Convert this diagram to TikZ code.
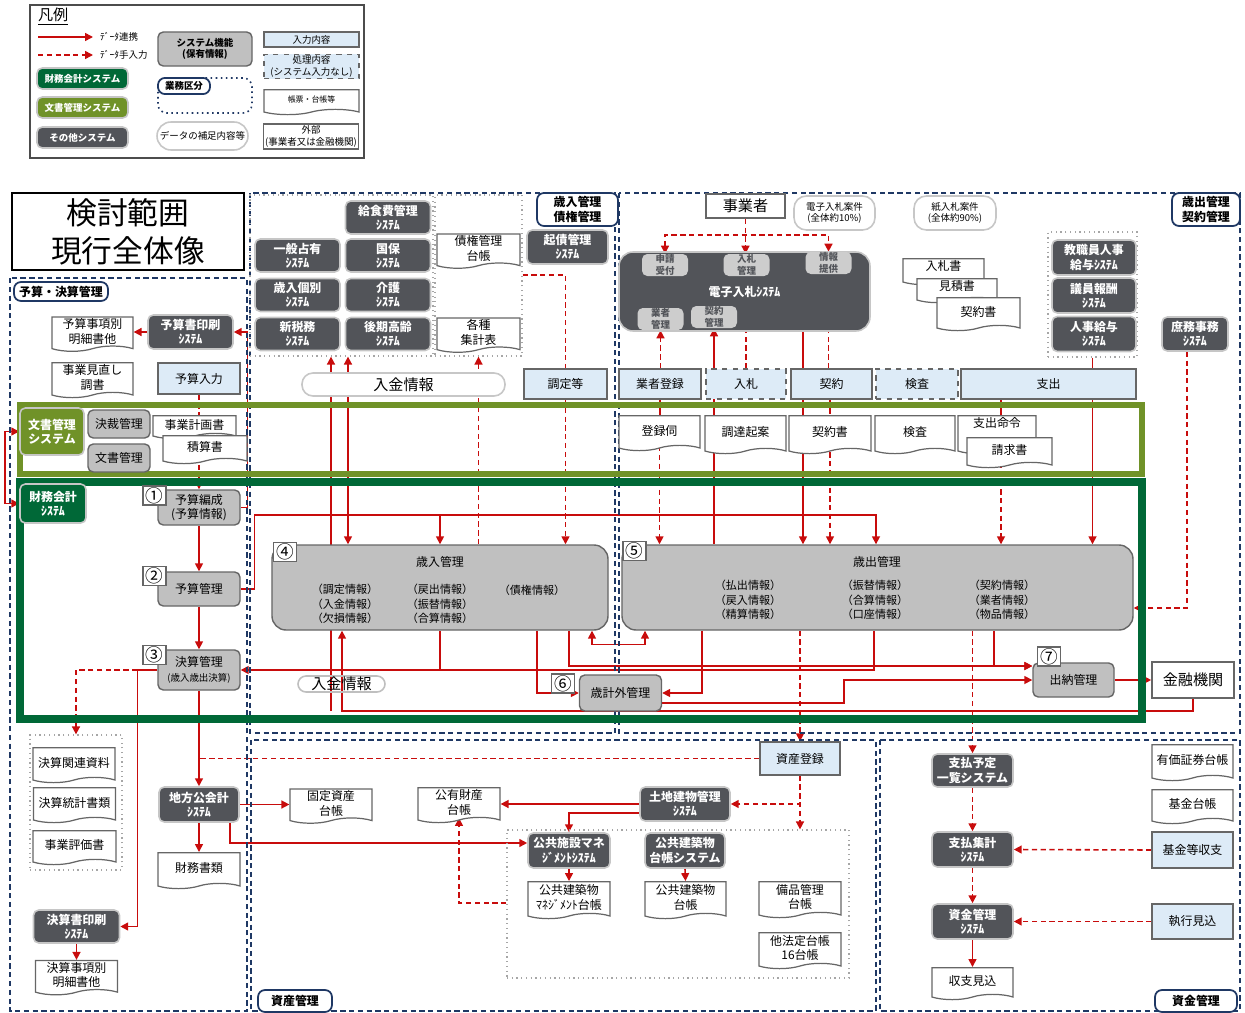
\documentclass[tikz,border=0pt]{standalone}
\usepackage{fontspec}
\setmainfont{Noto Sans CJK JP}
\usepackage{xcolor}
\usepackage{tikz}
\usetikzlibrary{positioning, arrows.meta, shapes.symbols, backgrounds, calc}

\definecolor{sysgray}{RGB}{82,84,89}
\definecolor{fgray}{RGB}{192,192,192}
\definecolor{subgray}{RGB}{205,205,205}
\definecolor{lblue}{RGB}{221,235,247}
\definecolor{zgreen}{RGB}{0,104,55}
\definecolor{bolive}{RGB}{112,146,40}
\definecolor{navy}{RGB}{31,56,100}
\definecolor{lred}{RGB}{200,12,12}

\newcommand{\fsT}{\fontsize{17.5}{21.5}\selectfont}
\newcommand{\fsN}{\fontsize{10}{11}\selectfont}
\newcommand{\fsL}{\fontsize{8.6}{10}\selectfont}
\newcommand{\fsM}{\fontsize{6.8}{8.2}\selectfont}
\newcommand{\fsC}{\fontsize{6.3}{8.2}\selectfont}
\newcommand{\fsS}{\fontsize{5.4}{6.4}\selectfont}
\newcommand{\fsXS}{\fontsize{4.5}{5.4}\selectfont}

\begin{document}
\begin{tikzpicture}[
  x=0.2mm, y=-0.2mm,
  >={Triangle[length=4.5pt,width=4.5pt]},
  every node/.style={font=\fsM, inner sep=1pt},
  sys/.style={draw=gray!45, line width=0.9pt, fill=sysgray, rounded corners=3pt,
              text=white, font=\fsM\bfseries, align=center,
              minimum width=16.6mm, minimum height=6.8mm},
  legsys/.style={sys, font=\fsS\bfseries, minimum width=18.2mm, minimum height=4.2mm},
  subsys/.style={fill=subgray, rounded corners=3pt, text=sysgray, font=\fsS\bfseries,
                 align=center, minimum width=9.2mm, minimum height=4.4mm, inner sep=0pt},
  fnc/.style={draw=black!60, line width=0.8pt, fill=fgray, rounded corners=3pt,
              align=center, minimum width=16.4mm, minimum height=6.8mm},
  inbox/.style={draw=black!60, line width=0.8pt, fill=lblue, align=center,
                minimum width=16.4mm, minimum height=6mm},
  proc/.style={inbox, dashed},
  doc/.style={tape, tape bend top=none, tape bend bottom=in and out, tape bend height=3pt,
              draw=black!60, line width=0.7pt, fill=white, align=center,
              minimum width=16.4mm, minimum height=6.8mm},
  ext/.style={draw=black!60, line width=0.9pt, fill=white, align=center},
  memo/.style={draw=black!22, line width=0.9pt, fill=white, rounded corners=7pt, align=center},
  tag/.style={draw=navy, line width=1pt, fill=white, rounded corners=4pt,
              font=\fsM\bfseries, align=center, inner sep=2pt},
  num/.style={draw=black!60, line width=0.9pt, fill=white, font=\fsN, inner sep=0pt,
              minimum width=4.6mm, minimum height=3.8mm},
  grp/.style={draw=black!35, dotted, line width=0.7pt},
  area/.style={draw=navy, line width=0.8pt, dash pattern=on 3pt off 2pt},
  lnk/.style={draw=lred, line width=0.9pt, ->},
  lnkb/.style={lnk, <->},
  wire/.style={draw=lred, line width=0.9pt},
  man/.style={lnk, dash pattern=on 3pt off 2pt},
  manb/.style={lnkb, dash pattern=on 3pt off 2pt},
  mwire/.style={wire, dash pattern=on 3pt off 2pt},
]
\useasboundingbox (0,0) rectangle (1245,1013);

% --- legend ---
\draw[black!70, line width=0.9pt] (30,5) rectangle (364,158);
\node[font=\fsL, anchor=west] (lgTitle) at (36,17) {\underline{凡例}};
\coordinate (lgS1) at (38,37); \coordinate (lgS2) at (93,37);
\coordinate (lgD1) at (38,55); \coordinate (lgD2) at (93,55);
\draw[lnk] (lgS1) -- (lgS2);
\draw[man] (lgD1) -- (lgD2);
\node[font=\fsS, anchor=west] (lgSTxt) at (98,37) {ﾃﾞｰﾀ連携};
\node[font=\fsS, anchor=west] (lgDTxt) at (98,55) {ﾃﾞｰﾀ手入力};
\node[legsys, fill=zgreen] (lgFin) at (82.5,78.5) {財務会計システム};
\node[legsys, fill=bolive] (lgDoc) at (82.5,107.5) {文書管理システム};
\node[legsys, fill=sysgray] (lgOther) at (82.5,137.5) {その他システム};
\node[fnc, font=\fsS\bfseries, minimum width=18.8mm] (lgFunc) at (205,49) {システム機能\\(保有情報)};
\draw[navy, dotted, line width=0.9pt, rounded corners=5pt] (158,78) rectangle (252,113);
\node[tag, font=\fsS\bfseries, minimum width=10.4mm, minimum height=3.2mm] (lgArea) at (184,86) {業務区分};
\node[memo, font=\fsS, minimum width=18.2mm, minimum height=5.6mm, rounded corners=2.8mm] (lgNote) at (202.5,136) {データの補足内容等};
\node[inbox, font=\fsS, minimum width=19mm, minimum height=3mm] (lgIn) at (311.5,39.5) {入力内容};
\node[proc, font=\fsS, minimum width=19mm, minimum height=4.6mm] (lgProc) at (311.5,66.5) {処理内容\\(システム入力なし)};
\node[doc, font=\fsXS, minimum width=19mm, minimum height=5mm] (lgLedger) at (311.5,99.5) {帳票・台帳等};
\node[ext, font=\fsS, minimum width=18.8mm, minimum height=5mm] (lgExt) at (311,136.5) {外部\\(事業者又は金融機関)};

% --- title ---
\node[draw=black, line width=1.6pt, minimum width=46.4mm, minimum height=15.4mm,
      font=\fsT, align=center] (title) at (128,231.5) {検討範囲\\現行全体像};

% --- business areas ---
\draw[area] (10,278) rectangle (247,1011);
\draw[area] (250,193) rectangle (615,733);
\draw[area] (619,193) rectangle (1240,733);
\draw[area] (251,740) rectangle (876,1011);
\draw[area] (880,740) rectangle (1240,1011);

% --- system bands ---
\draw[bolive, line width=3pt] (20,405) rectangle (1142,474);
\draw[zgreen, line width=4pt] (20,482) rectangle (1142,719);

\node[tag, minimum width=18.8mm, minimum height=3.8mm] (tagBudget) at (61,291.5) {予算・決算管理};
\node[tag, minimum width=16.2mm, minimum height=6.2mm] (tagRev) at (577.5,209.5) {歳入管理\\債権管理};
\node[tag, minimum width=13.6mm, minimum height=6.2mm] (tagExp) at (1206,209.5) {歳出管理\\契約管理};
\node[tag, minimum width=14.8mm, minimum height=4.4mm] (tagAsset) at (295,1001) {資産管理};
\node[tag, minimum width=16.4mm, minimum height=4.4mm] (tagFund) at (1196,1001) {資金管理};

% =========================================================
% Budget / settlement
% =========================================================
\node[doc, minimum width=16.2mm, minimum height=6.6mm] (yosanMeisai) at (92.5,331.5) {予算事項別\\明細書他};
\node[sys, minimum width=17mm] (yosanPrint) at (190.5,332) {予算書印刷\\ｼｽﾃﾑ};
\node[doc, minimum width=16.2mm, minimum height=7mm] (jigyoMinaoshi) at (92.5,377.5) {事業見直し\\調書};
\node[inbox, minimum height=6.2mm] (yosanInput) at (199,378.5) {予算入力};

\node[sys, fill=bolive, minimum width=12.8mm, minimum height=9.4mm] (bunshoSys) at (52,431.5) {文書管理\\システム};
\node[sys, fill=zgreen, minimum width=13.2mm, minimum height=7.8mm] (zaimuSys) at (53,503.5) {財務会計\\ｼｽﾃﾑ};
\coordinate (lbr) at (5,470);
\node[fnc, minimum width=12.4mm, minimum height=5.6mm] (kessai) at (119,424) {決裁管理};
\node[fnc, minimum width=12.4mm, minimum height=5.6mm] (bunshoKanri) at (119,458) {文書管理};
\node[doc, minimum width=16.6mm, minimum height=4.6mm] (jigyoKeikaku) at (194.5,424.5) {事業計画書};
\node[doc, minimum width=16.8mm, minimum height=5.6mm] (sekisan) at (205,447) {積算書};

\node[fnc, minimum height=7mm] (yosanHensei) at (199,507.5) {予算編成\\(予算情報)};
\node[num] (n1) at (154.5,495.5) {①};
\node[fnc] (yosanKanri) at (199,589) {予算管理};
\node[num] (n2) at (154.5,576) {②};
\node[fnc, minimum height=8mm] (kessanKanri) at (199,670) {決算管理\\{\fsS(歳入歳出決算)}};
\node[num] (n3) at (154.5,655) {③};

\node[grp, minimum width=18.4mm, minimum height=27mm] (grpKessan) at (76,802.5) {};
\node[doc, minimum height=7mm] (kessanShiryo) at (74,762.5) {決算関連資料};
\node[doc, minimum height=7mm] (kessanTokei) at (74.5,802.5) {決算統計書類};
\node[doc, minimum width=16.6mm] (jigyoHyoka) at (74.5,845) {事業評価書};
\node[sys, minimum width=17.2mm, minimum height=6.6mm] (kessanPrint) at (76.5,926.5) {決算書印刷\\ｼｽﾃﾑ};
\node[doc] (kessanMeisai) at (76.5,975) {決算事項別\\明細書他};
\node[sys, minimum width=16mm, minimum height=7mm] (chihoKoukai) at (199,804.5) {地方公会計\\ｼｽﾃﾑ};
\node[doc, minimum height=7.2mm] (zaimuShorui) at (199,868) {財務書類};

% =========================================================
% Revenue / claims
% =========================================================
\node[grp, minimum width=36.6mm, minimum height=32.2mm] (grpSys) at (341.5,275.5) {};
\node[grp, minimum width=17.4mm, minimum height=32.2mm] (grpDoc) at (478.5,275.5) {};
\node[sys, minimum width=17mm, minimum height=6.6mm] (kyushoku) at (388,217.5) {給食費管理\\ｼｽﾃﾑ};
\node[sys, minimum width=17mm, minimum height=6.6mm] (ippan) at (297.5,255.5) {一般占有\\ｼｽﾃﾑ};
\node[sys, minimum width=17mm, minimum height=6.6mm] (kokuho) at (388,255.5) {国保\\ｼｽﾃﾑ};
\node[sys, minimum width=17mm, minimum height=6.6mm] (sainyuKobetsu) at (297.5,295) {歳入個別\\ｼｽﾃﾑ};
\node[sys, minimum width=17mm, minimum height=6.6mm] (kaigo) at (388,295) {介護\\ｼｽﾃﾑ};
\node[sys, minimum width=17mm, minimum height=6.6mm] (zeimu) at (297.5,334) {新税務\\ｼｽﾃﾑ};
\node[sys, minimum width=17mm, minimum height=6.6mm] (koki) at (388,334) {後期高齢\\ｼｽﾃﾑ};
\node[doc, minimum width=16.6mm, minimum height=6.6mm] (saikenDaicho) at (478.5,248.5) {債権管理\\台帳};
\node[doc, minimum width=16.6mm, minimum height=6.2mm] (shukei) at (478.5,332.5) {各種\\集計表};
\node[sys, minimum width=16.2mm] (kisai) at (567.5,247) {起債管理\\ｼｽﾃﾑ};
\node[memo, font=\fsL, minimum width=40.6mm, minimum height=4.6mm, rounded corners=2.2mm] (nyukinA) at (403.5,384.5) {入金情報};
\node[inbox, minimum width=16.6mm] (chotei) at (565.5,384) {調定等};

\node[fnc, minimum width=67.2mm, minimum height=17mm, rounded corners=8pt] (sainyu) at (440,587.5) {};
\node (sainyuT) at (440,562) {歳入管理};
\node[font=\fsC, align=center] (sainyuC1) at (345,604) {（調定情報）\\（入金情報）\\（欠損情報）};
\node[font=\fsC, align=center] (sainyuC2) at (440,604) {（戻出情報）\\（振替情報）\\（合算情報）};
\node[font=\fsC] (sainyuC3) at (532,590) {（債権情報）};
\node[num] (n4) at (285,552) {④};

\node[fnc, minimum height=7.2mm] (saikeigai) at (620.5,693) {歳計外管理};
\node[num] (n6) at (563,683.5) {⑥};
\node[memo, draw=black!25, fill=none, font=\fsL, minimum width=17.4mm, minimum height=3.2mm,
      inner sep=0pt, rounded corners=1.6mm] (nyukinB) at (341.5,684) {入金情報};
\coordinate (nyukinFoot) at (331,711);

% =========================================================
% Expenditure / contracts
% =========================================================
\node[ext, font=\fsL, minimum width=15.8mm, minimum height=4.8mm] (jigyosha) at (745.5,206) {事業者};
\node[memo, font=\fsS, minimum width=16.2mm, minimum height=6.8mm] (denshiNote) at (834.5,213) {電子入札案件\\(全体約10\%)};
\node[memo, font=\fsS, minimum width=16.4mm, minimum height=6.8mm] (kamiNote) at (955,213) {紙入札案件\\(全体約90\%)};

\node[sys, minimum width=50.2mm, minimum height=15.8mm, rounded corners=8pt] (denshi) at (744.5,291.5) {電子入札ｼｽﾃﾑ};
\node[subsys] (shinsei) at (665,265) {申請\\受付};
\node[subsys] (nyusatsuKanri) at (746.5,265) {入札\\管理};
\node[subsys] (joho) at (828.5,263) {情報\\提供};
\node[subsys] (gyoshaKanri) at (660.5,319) {業者\\管理};
\node[subsys] (keiyakuKanri) at (714,317) {契約\\管理};

\node[doc, minimum width=16.2mm, minimum height=5.2mm, label={[anchor=north]north:入札書}] (nyusatsuSho) at (943.5,269) {};
\node[doc, minimum width=16mm, minimum height=4.8mm, label={[anchor=north]north:見積書}] (mitsumori) at (957,288) {};
\node[doc, minimum width=16.6mm, minimum height=6.6mm] (keiyakuSho) at (978.5,311.5) {契約書};

\node[grp, minimum width=17.8mm, minimum height=25mm] (grpHR) at (1092.5,294.5) {};
\node[sys, minimum width=16.8mm, minimum height=7mm] (kyoshoku) at (1094,257.5) {教職員人事\\給与ｼｽﾃﾑ};
\node[sys, minimum width=16.8mm, minimum height=7mm] (giin) at (1094,295.5) {議員報酬\\ｼｽﾃﾑ};
\node[sys, minimum width=16.8mm, minimum height=7mm] (jinji) at (1094,334) {人事給与\\ｼｽﾃﾑ};
\node[sys, minimum width=13.2mm] (shomu) at (1195,334) {庶務事務\\ｼｽﾃﾑ};

\node[inbox] (gyoshaToroku) at (660,384) {業者登録};
\node[proc, minimum width=16mm] (nyusatsu) at (746,384) {入札};
\node[inbox, minimum width=16.2mm] (keiyaku) at (831.5,384) {契約};
\node[proc] (kensa) at (917,384) {検査};
\node[inbox, minimum width=35mm] (shishutsu) at (1048.5,384) {支出};

\node[doc, minimum width=16.2mm, minimum height=7mm] (torokuUkagai) at (659.5,430.5) {登録伺};
\node[doc, minimum width=16.2mm, minimum height=7.6mm] (chotatsu) at (745.5,432) {調達起案};
\node[doc, minimum height=7.6mm] (keiyakuDoc) at (830,432) {契約書};
\node[doc, minimum width=16mm, minimum height=7.6mm] (kensaDoc) at (915,432) {検査};
\node[doc, minimum width=15.6mm, minimum height=7.6mm, label={[anchor=north]north:支出命令}] (shishutsuMeirei) at (997,432) {};
\node[doc, minimum width=17mm, minimum height=6mm] (seikyu) at (1009.5,450) {請求書};

\node[fnc, minimum width=102.2mm, minimum height=17mm, rounded corners=8pt] (saishutsu) at (877.5,587.5) {};
\node (saishutsuT) at (877,562) {歳出管理};
\node[font=\fsC, align=center] (saishutsuC1) at (748,600) {（払出情報）\\（戻入情報）\\（精算情報）};
\node[font=\fsC, align=center] (saishutsuC2) at (875,600) {（振替情報）\\（合算情報）\\（口座情報）};
\node[font=\fsC, align=center] (saishutsuC3) at (1002,600) {（契約情報）\\（業者情報）\\（物品情報）};
\node[num] (n5) at (634.5,551) {⑤};

\node[fnc, minimum width=16.2mm] (suito) at (1073.5,680) {出納管理};
\node[num] (n7) at (1049,656.5) {⑦};
\coordinate (suitoIn) at (suito.north west |- 0,666);
\node[ext, font=\fsL, minimum width=16.4mm, minimum height=7.2mm] (kinyu) at (1193,680) {金融機関};
\coordinate (budgetBus) at (876,515);

% =========================================================
% Assets
% =========================================================
\node[doc, minimum height=6.6mm] (koteiShisan) at (331,803.5) {固定資産\\台帳};
\node[doc, minimum height=7mm] (koyuZaisan) at (459,802.5) {公有財産\\台帳};
\node[inbox, minimum width=16mm, minimum height=6.6mm] (shisanToroku) at (800,758.5) {資産登録};
\node[sys, minimum width=18mm] (tochi) at (685,804) {土地建物管理\\ｼｽﾃﾑ};
\node[grp, minimum width=68.4mm, minimum height=29.6mm] (grpAsset) at (678,904) {};
\node[sys, minimum width=16.4mm, minimum height=7mm] (koukyoShisetsu) at (569,850.5) {公共施設マネ\\ｼﾞﾒﾝﾄｼｽﾃﾑ};
\node[sys, minimum width=16mm, minimum height=7mm] (kenchikuSys) at (685,850.5) {公共建築物\\台帳システム};
\node[doc, minimum height=7.4mm] (kenchikuMgmt) at (569,897.5) {公共建築物\\ﾏﾈｼﾞﾒﾝﾄ台帳};
\node[doc, minimum width=16.2mm, minimum height=7.4mm] (kenchikuDaicho) at (685.5,897.5) {公共建築物\\台帳};
\node[doc, minimum height=7.2mm] (bihin) at (800,897) {備品管理\\台帳};
\node[doc, minimum height=7.2mm] (hoteiDaicho) at (800,948) {他法定台帳\\16台帳};

% =========================================================
% Funds
% =========================================================
\node[sys, minimum width=16.2mm, minimum height=6.6mm] (shiharaiYotei) at (972.5,770.5) {支払予定\\一覧システム};
\node[sys, minimum width=16.2mm, minimum height=7mm] (shiharaiShukei) at (972.5,849.5) {支払集計\\ｼｽﾃﾑ};
\node[sys, minimum width=16.2mm, minimum height=7mm] (shikinSys) at (972.5,921.5) {資金管理\\ｼｽﾃﾑ};
\node[doc, minimum width=16.2mm, minimum height=6.4mm] (shushi) at (972.5,981) {収支見込};
\node[doc, minimum width=16.2mm, minimum height=7.2mm] (yuka) at (1192.5,760) {有価証券台帳};
\node[doc, minimum width=16.2mm] (kikinDaicho) at (1192.5,804) {基金台帳};
\node[inbox, minimum width=16.2mm, minimum height=7.2mm] (kikinShushi) at (1192.5,850) {基金等収支};
\node[inbox, minimum width=16.2mm, minimum height=7mm] (shikko) at (1192.5,921.5) {執行見込};

% --- connectors ---
\begin{scope}[on background layer]
\coordinate (kessanTap) at ($(kessanKanri.west)+(-20,0)$);
\draw[lnk] (yosanHensei.east) -- ++(7,0) |- (yosanPrint.east);
\draw[lnk] (yosanPrint.west) -- (yosanMeisai.east |- yosanPrint.west);
\draw[man] (yosanInput.south) -- (yosanHensei.north);
\draw[lnkb] (bunshoSys.west) -| (lbr) |- (zaimuSys.west);
\draw[lnk] (yosanHensei.south) -- (yosanKanri.north);
\draw[lnk] (yosanKanri.south) -- (kessanKanri.north);
\draw[lnk] (yosanKanri.east) -- ++(14,0) |- (budgetBus) -- (saishutsu.north -| budgetBus);
\draw[lnk] (sainyu.north |- budgetBus) -- (sainyu.north);

\draw[lnk] (saishutsu.south -| 874,0) |- (kessanKanri.east);
\draw[wire] (sainyu.south) -- (sainyu.south |- kessanKanri.east);
\draw[lnk] (sainyu.south -| 537,0) |- (saikeigai.west);
\draw[lnk] (sainyu.south -| 569,0) |- (suitoIn);
\draw[lnk] (saishutsu.south -| 994,0) |- (suitoIn);
\draw[lnk] (saishutsu.south -| 702,0) |- (saikeigai.east);
\draw[lnk] (saikeigai.east |- 0,703) -- ++(182,0) |- (suito.west);
\draw[lnk] (suito.east) -- (kinyu.west);
\draw[lnk] (kinyu.south) -- ++(0,12) -| (sainyu.south -| 342,0);
\draw[lnk] (nyukinFoot) -- (grpSys.south -| nyukinFoot);
\draw[lnkb] (grpSys.south -| 348,0) -- (sainyu.north -| 348,0);
\draw[man] (sainyu.north -| grpDoc.south) -- (grpDoc.south);
\draw[man] (grpDoc.east |- 0,275) -| (sainyu.north -| chotei);
\draw[lnkb] (sainyu.south -| 592,0) -- ++(0,14) -| (saishutsu.south -| 645,0);

\draw[man] (jigyosha.south) -- (nyusatsuKanri.north -| jigyosha.south);
\draw[manb] (shinsei.north) |- (joho.north |- 0,235) -- (joho.north);
\draw[man] (gyoshaKanri.south |- gyoshaToroku.north) -- (gyoshaKanri.south);
\draw[man] (nyusatsu.north) -- (nyusatsuKanri.south -| nyusatsu.north);
\draw[lnk] (saishutsu.north -| keiyakuKanri.south) -- (keiyakuKanri.south);
\draw[lnk] (keiyakuKanri.east) -| (saishutsu.north -| 803,0);
\draw[man] (keiyaku.north -| joho.south) -- (joho.south);
\draw[man] (keiyaku.south -| keiyakuDoc) -- (saishutsu.north -| keiyakuDoc);
\draw[wire] (gyoshaToroku.south) -- (torokuUkagai.north -| gyoshaToroku.south);
\draw[man] (torokuUkagai.south) -- (saishutsu.north -| torokuUkagai.south);
\draw[wire] (shishutsu.south -| 1001,0) -- (shishutsuMeirei.north -| 1001,0);
\draw[man] (seikyu.south -| 1001,0) -- (saishutsu.north -| 1001,0);
\draw[lnk] (grpHR.south) -- (saishutsu.north -| grpHR.south);
\draw[man] (shomu.south -| 1187,0) |- (saishutsu.east |- 0,608);
\draw[man] (saishutsu.south -| shisanToroku) -- (shisanToroku.north);
\draw[man] (saishutsu.south -| shiharaiYotei) -- (shiharaiYotei.north);

\draw[lnk] (kessanKanri.west) -- (kessanTap) |- (kessanPrint.east);
\draw[man] (kessanTap) -| (grpKessan.north);
\draw[lnk] (kessanKanri.south) -- (chihoKoukai.north);
\draw[lnk] (chihoKoukai.east) -- (koteiShisan.west |- chihoKoukai.east);
\draw[lnk] (chihoKoukai.south) -- (zaimuShorui.north);
\draw[lnk] (chihoKoukai.south -| 230,0) |- (koukyoShisetsu.west |- 0,843);
\draw[lnk] (kessanPrint.south) -- (kessanMeisai.north);
\draw[mwire] (shisanToroku.west) -- (chihoKoukai.north |- shisanToroku.west);
\draw[man] (shisanToroku.south) |- (tochi.east);
\draw[man] (shisanToroku.south) -- (grpAsset.north -| shisanToroku.south);
\draw[lnk] (tochi.west) -- (koyuZaisan.east |- tochi.west);
\draw[lnk] (tochi.west |- 0,813) -| (koukyoShisetsu.north);
\draw[lnk] (koukyoShisetsu.south) -- (kenchikuMgmt.north);
\draw[lnk] (kenchikuSys.south) -- (kenchikuDaicho.north);
\draw[man] (grpAsset.west |- 0,903) -| (koyuZaisan.south);
\draw[man] (shiharaiYotei.south) -- (shiharaiShukei.north);
\draw[man] (shiharaiShukei.south) -- (shikinSys.north);
\draw[lnk] (shikinSys.south) -- (shushi.north);
\draw[man] (kikinShushi.west) -- (shiharaiShukei.east);
\draw[man] (shikko.west) -- (shikinSys.east);
\end{scope}

\end{tikzpicture}
\end{document}
